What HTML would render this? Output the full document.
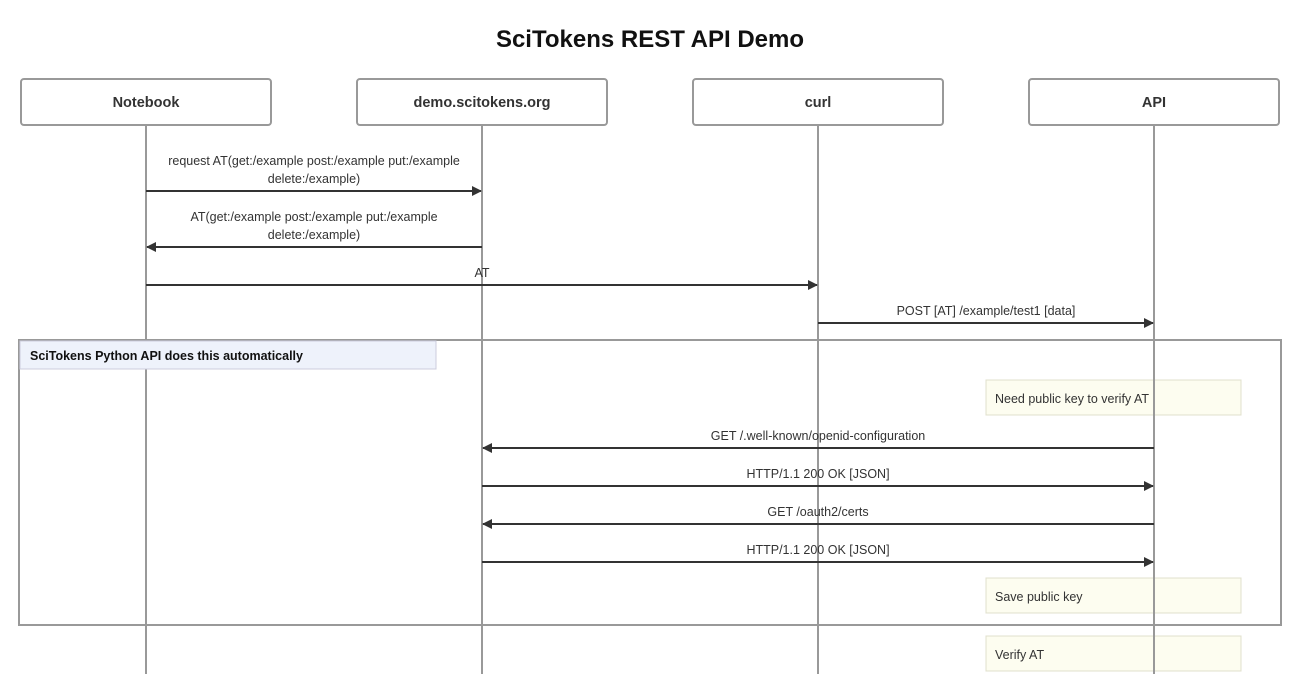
<!DOCTYPE html>
<html><head><meta charset="utf-8"><style>
html,body{margin:0;padding:0;background:#fff;}
svg{display:block;font-family:"Liberation Sans",sans-serif;}
.m{font-size:12.5px;fill:#333;text-anchor:middle;}
.n{font-size:12.5px;fill:#333;}
.a{stroke:#333;stroke-width:2;}
.l{stroke:#999;stroke-width:2;}
</style></head><body>
<svg width="1300" height="674" viewBox="0 0 1300 674">
<defs><marker id="ar" markerWidth="10" markerHeight="10" refX="9" refY="5" orient="auto" markerUnits="userSpaceOnUse"><path d="M0,0 L10,5 L0,10 z" fill="#333"/></marker></defs>
<text x="650" y="47" text-anchor="middle" font-size="24" font-weight="bold" fill="#111">SciTokens REST API Demo</text>
<g fill="#fff" stroke="#999" stroke-width="2">
<rect x="21" y="79" width="250" height="46" rx="3"/>
<rect x="357" y="79" width="250" height="46" rx="3"/>
<rect x="693" y="79" width="250" height="46" rx="3"/>
<rect x="1029" y="79" width="250" height="46" rx="3"/>
</g>
<g font-size="14.5" font-weight="bold" fill="#333" text-anchor="middle">
<text x="146" y="107">Notebook</text>
<text x="482" y="107">demo.scitokens.org</text>
<text x="818" y="107">curl</text>
<text x="1154" y="107">API</text>
</g>
<g fill="#fdfdf0" stroke="#e0e0cc" stroke-width="1">
<rect x="986" y="380" width="255" height="35"/>
<rect x="986" y="578" width="255" height="35"/>
<rect x="986" y="636" width="255" height="35"/>
</g>
<line class="l" x1="146" y1="125" x2="146" y2="674"/>
<line class="l" x1="482" y1="125" x2="482" y2="674"/>
<line class="l" x1="818" y1="125" x2="818" y2="674"/>
<line class="l" x1="1154" y1="125" x2="1154" y2="674"/>
<rect x="19" y="340" width="1262" height="285" fill="none" stroke="#999" stroke-width="2"/>
<rect x="20" y="341" width="416" height="28" fill="#eef2fb" stroke="#ccd" stroke-width="1"/>
<text x="30" y="360" font-size="12.5" font-weight="bold" fill="#111">SciTokens Python API does this automatically</text>
<text class="n" x="995" y="403">Need public key to verify AT</text>
<text class="n" x="995" y="601">Save public key</text>
<text class="n" x="995" y="659">Verify AT</text>
<text class="m" x="314" y="165">request AT(get:/example post:/example put:/example</text>
<text class="m" x="314" y="183">delete:/example)</text>
<line class="a" x1="146" y1="191" x2="481" y2="191" marker-end="url(#ar)"/>
<text class="m" x="314" y="221">AT(get:/example post:/example put:/example</text>
<text class="m" x="314" y="239">delete:/example)</text>
<line class="a" x1="482" y1="247" x2="147" y2="247" marker-end="url(#ar)"/>
<text class="m" x="482" y="277">AT</text>
<line class="a" x1="146" y1="285" x2="817" y2="285" marker-end="url(#ar)"/>
<text class="m" x="986" y="315">POST [AT] /example/test1 [data]</text>
<line class="a" x1="818" y1="323" x2="1153" y2="323" marker-end="url(#ar)"/>
<text class="m" x="818" y="440">GET /.well-known/openid-configuration</text>
<line class="a" x1="1154" y1="448" x2="483" y2="448" marker-end="url(#ar)"/>
<text class="m" x="818" y="478">HTTP/1.1 200 OK [JSON]</text>
<line class="a" x1="482" y1="486" x2="1153" y2="486" marker-end="url(#ar)"/>
<text class="m" x="818" y="516">GET /oauth2/certs</text>
<line class="a" x1="1154" y1="524" x2="483" y2="524" marker-end="url(#ar)"/>
<text class="m" x="818" y="554">HTTP/1.1 200 OK [JSON]</text>
<line class="a" x1="482" y1="562" x2="1153" y2="562" marker-end="url(#ar)"/>
</svg>
</body></html>
